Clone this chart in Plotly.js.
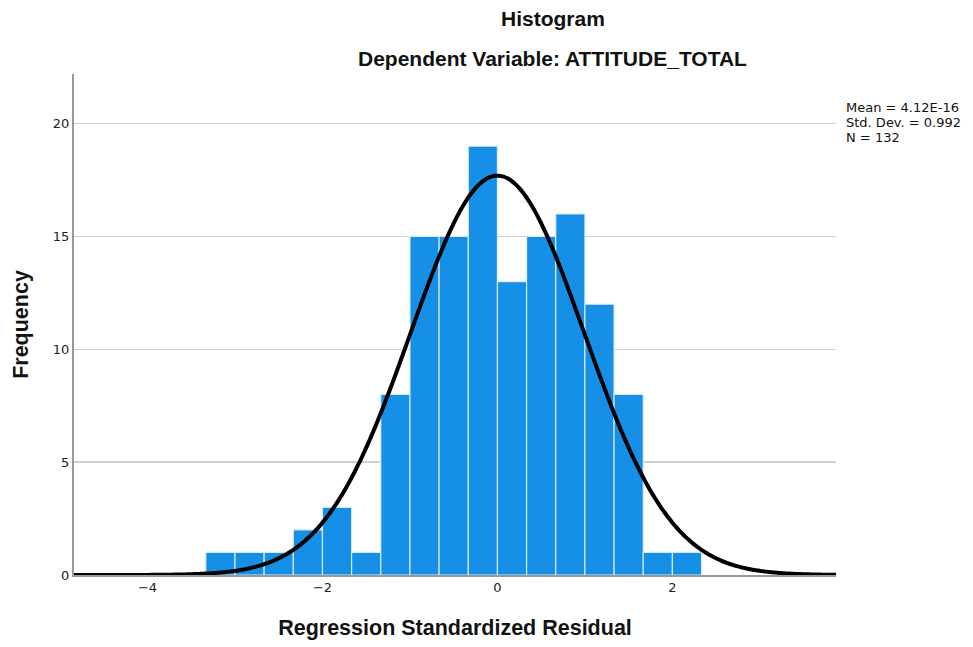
<!DOCTYPE html>
<html>
<head>
<meta charset="utf-8">
<script src="https://cdn.plot.ly/plotly-3.0.1.min.js"></script>
<style>body{margin:0;padding:0;background:#fff;} #chart{width:973px;height:647px;}</style>
</head>
<body>
<div id="chart"></div>
<script>
// Histogram bins (regression standardized residual)
const binStart = -10 / 3;
const binWidth = 1 / 3;
const binCounts = [1, 1, 1, 2, 3, 1, 8, 15, 15, 19, 13, 15, 16, 12, 8, 1, 1];

// Summary statistics shown in the legend
const statMean = 4.12e-16;
const statSD = 0.992;
const statN = 132;
const statLabels = ["Mean = 4.12E-16", "Std. Dev. = 0.992", "N = 132"];

const titleText = "Histogram";
const subtitleText = "Dependent Variable: ATTITUDE_TOTAL";
const xTitle = "Regression Standardized Residual";
const yTitle = "Frequency";
const xTickVals = [-4, -2, 0, 2];
const xTickText = ["\u22124", "\u22122", "0", "2"];
const yTickVals = [0, 5, 10, 15, 20];

const xRange = [-4.84, 3.87];
const yRange = [0, 22.2];

const binCenters = binCounts.map((_, i) => binStart + binWidth * (i + 0.5));

// Fitted normal curve (scaled to counts) from mean, SD, N and bin width
const curveX = [];
const curveY = [];
const steps = 400;
for (let i = 0; i <= steps; i++) {
  const x = xRange[0] + (xRange[1] - xRange[0]) * i / steps;
  const z = (x - statMean) / statSD;
  curveX.push(x);
  curveY.push(statN * binWidth * Math.exp(-0.5 * z * z) / (statSD * Math.sqrt(2 * Math.PI)));
}

const font = "Liberation Sans, Arial, Helvetica, sans-serif";
const smallFont = "DejaVu Sans, Verdana, sans-serif";

const traces = [
  {
    type: "bar",
    x: binCenters,
    y: binCounts,
    width: binWidth,
    marker: { color: "#1590e6", line: { color: "rgba(225,240,252,0.9)", width: 1.2 } },
    hoverinfo: "x+y",
    showlegend: false
  },
  {
    type: "scatter",
    mode: "lines",
    x: curveX,
    y: curveY,
    line: { color: "#000", width: 4, shape: "spline" },
    hoverinfo: "skip",
    showlegend: false,
    cliponaxis: false
  }
];

const annotations = [
  { text: "<b>" + titleText + "</b>", xref: "paper", yref: "paper", x: 0.628, y: 1, yshift: 56, showarrow: false, font: { size: 21, color: "#111", family: font }, xanchor: "center", yanchor: "middle" },
  { text: "<b>" + subtitleText + "</b>", xref: "paper", yref: "paper", x: 0.628, y: 1, yshift: 16, showarrow: false, font: { size: 21, color: "#111", family: font }, xanchor: "center", yanchor: "middle" }
];
statLabels.forEach((s, i) => {
  annotations.push({ text: s, xref: "paper", yref: "paper", x: 1, xshift: 8, y: 1, yshift: -33 - 15 * i, showarrow: false, align: "left", xanchor: "left", yanchor: "middle", font: { size: 13, color: "#111", family: smallFont } });
});

const layout = {
  width: 973,
  height: 647,
  margin: { l: 74, r: 137, t: 74, b: 72 },
  paper_bgcolor: "#fff",
  plot_bgcolor: "#fff",
  font: { family: font, color: "#222", size: 13 },
  bargap: 0,
  xaxis: {
    range: xRange,
    tickvals: xTickVals,
    ticktext: xTickText,
    ticks: "",
    showgrid: false,
    zeroline: false,
    showline: true,
    linecolor: "#999",
    linewidth: 1.5,
    tickfont: { size: 13, color: "#222", family: smallFont },
    title: { text: xTitle, font: { size: 21.5, color: "#111", family: font, weight: "bold" }, standoff: 26 }
  },
  yaxis: {
    range: yRange,
    tickvals: yTickVals,
    ticks: "",
    showgrid: true,
    gridcolor: "#d0d0d0",
    gridwidth: 1.5,
    zeroline: false,
    showline: true,
    linecolor: "#999",
    linewidth: 2,
    tickfont: { size: 13, color: "#222", family: smallFont },
    title: { text: yTitle, font: { size: 21.5, color: "#111", family: font, weight: "bold" }, standoff: 18 }
  },
  annotations: annotations
};

Plotly.newPlot("chart", traces, layout, { staticPlot: true, displayModeBar: false });
</script>
</body>
</html>
